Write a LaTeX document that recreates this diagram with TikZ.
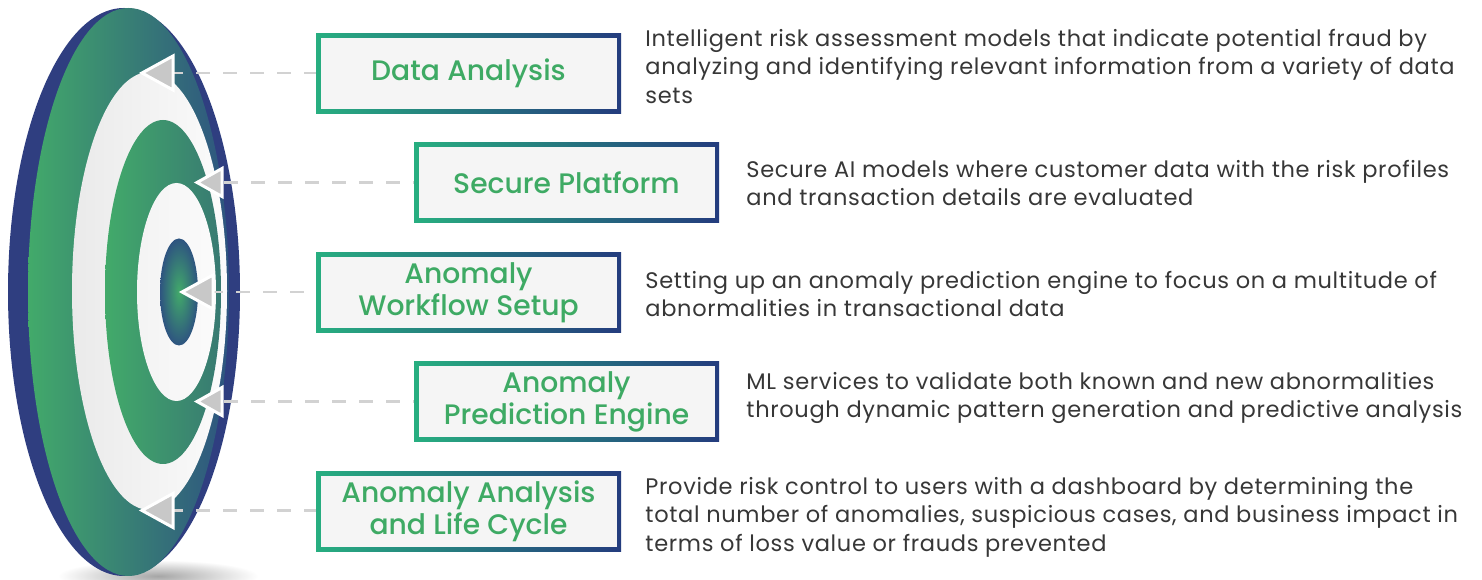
\documentclass[tikz,border=0pt]{standalone}
\usepackage{fontspec}
\newfontfamily\descfont{Poppins}[LetterSpace=3]
\newfontfamily\labelfont{Poppins Medium}
\usetikzlibrary{positioning}
\definecolor{DiscNavy}{RGB}{47, 62, 128}
\definecolor{DiscGreen}{RGB}{66, 170, 106}
\definecolor{DiscBlue}{RGB}{46, 84, 128}
\definecolor{DiscTeal}{RGB}{56, 122, 114}
\definecolor{RingLight}{RGB}{234, 234, 234}
\definecolor{RingWhite}{RGB}{251, 251, 251}
\definecolor{BorderGreen}{RGB}{39, 174, 128}
\definecolor{BorderNavy}{RGB}{36, 60, 126}
\definecolor{BoxFill}{RGB}{245, 245, 245}
\definecolor{LabelGreen}{RGB}{62, 170, 100}
\definecolor{ArrowGray}{RGB}{200, 200, 200}
\definecolor{DashGray}{RGB}{210, 210, 210}
\definecolor{DescGray}{RGB}{55, 55, 55}

\begin{document}
\begin{tikzpicture}[x=1pt, y=1pt,
    stepbox/.style={minimum width=305pt, minimum height=80pt, inner sep=0pt, align=center, text=LabelGreen,
        font=\labelfont\fontsize{28.2}{32}\selectfont,
        path picture={
            \shade[left color=BorderGreen, right color=BorderNavy] (path picture bounding box.south west) rectangle (path picture bounding box.north east);
            \fill[BoxFill] ([shift={(4.5pt,4.5pt)}]path picture bounding box.south west) rectangle ([shift={(-4.5pt,-4.5pt)}]path picture bounding box.north east);}},
    desc/.style={align=left, inner sep=0pt, text=DescGray, font=\descfont\fontsize{22.5}{28.5}\selectfont},
    leader/.style={draw=DashGray, line width=2.5pt, dash pattern=on 14pt off 13pt},
    pointer/.style={fill=ArrowGray, draw=white, line width=3pt}]
    \useasboundingbox (0,0) rectangle (1482,580);
    \fill[white] (0,0) rectangle (1482,580);

    % target disc
    \begin{scope}
        \clip (0,0) rectangle (1482,580);
        \shade[inner color=black!35, outer color=white] (158,4) ellipse [x radius=100, y radius=16];
    \end{scope}
    \fill[DiscNavy] (124,288) ellipse [x radius=116, y radius=284];
    \shade[left color=DiscGreen, right color=DiscBlue] (128.5,288) ellipse [x radius=100.5, y radius=284];
    \shade[left color=RingLight, right color=RingWhite] (149.5,289) ellipse [x radius=77.5, y radius=219];
    \shade[left color=DiscGreen, right color=DiscTeal] (163,288) ellipse [x radius=58, y radius=172];
    \shade[left color=RingWhite!97!black, right color=RingWhite] (176.5,288) ellipse [x radius=39.5, y radius=109];
    \shade[inner color=DiscGreen, outer color=DiscBlue] (179,288) ellipse [x radius=19, y radius=53.5];

    % steps
    \node[stepbox] (da) at (468.5,506.5) {Data Analysis};
    \node[stepbox, below=29pt of da, xshift=98pt] (sp) {Secure Platform};
    \node[stepbox, below=29pt of sp, xshift=-98pt] (aw) {Anomaly\\Workflow Setup};
    \node[stepbox, below=29pt of aw, xshift=98pt] (ap) {Anomaly\\Prediction Engine};
    \node[stepbox, below=29pt of ap, xshift=-98pt] (al) {Anomaly Analysis\\and Life Cycle};

    \node[desc, right=24pt of da, yshift=7pt] (dad) {Intelligent risk assessment models that indicate potential fraud by\\analyzing and identifying relevant information from a variety of data\\sets};
    \node[desc, right=27pt of sp] (spd) {Secure AI models where customer data with the risk profiles\\and transaction details are evaluated};
    \node[desc, right=24pt of aw, yshift=-1.5pt] (awd) {Setting up an anomaly prediction engine to focus on a multitude of\\abnormalities in transactional data};
    \node[desc, right=27pt of ap, yshift=3.5pt] (apd) {ML services to validate both known and new abnormalities\\through dynamic pattern generation and predictive analysis};
    \node[desc, right=24pt of al, yshift=-6pt] (ald) {Provide risk control to users with a dashboard by determining the\\total number of anomalies, suspicious cases, and business impact in\\terms of loss value or frauds prevented};

    % pointers into the rings
    \coordinate (t1) at (142,507);
    \coordinate (t2) at (197,397.5);
    \coordinate (t3) at (182,288);
    \coordinate (t4) at (197,178.5);
    \coordinate (t5) at (142,69.5);
    \draw[leader] (t1) -- (t1 -| da.west);
    \draw[leader] (t2) -- (t2 -| sp.west);
    \draw[leader] (t3) -- (t3 -| aw.west);
    \draw[leader] (t4) -- (t4 -| ap.west);
    \draw[leader] (t5) -- (t5 -| al.west);
    \draw[pointer] (t1) -- ++(31,17) -- ++(0,-34) -- cycle;
    \draw[pointer] (t2) -- ++(25,14) -- ++(0,-28) -- cycle;
    \draw[pointer] (t3) -- ++(31,17) -- ++(0,-34) -- cycle;
    \draw[pointer] (t4) -- ++(25,14) -- ++(0,-28) -- cycle;
    \draw[pointer] (t5) -- ++(31,17) -- ++(0,-34) -- cycle;
\end{tikzpicture}
\end{document}
